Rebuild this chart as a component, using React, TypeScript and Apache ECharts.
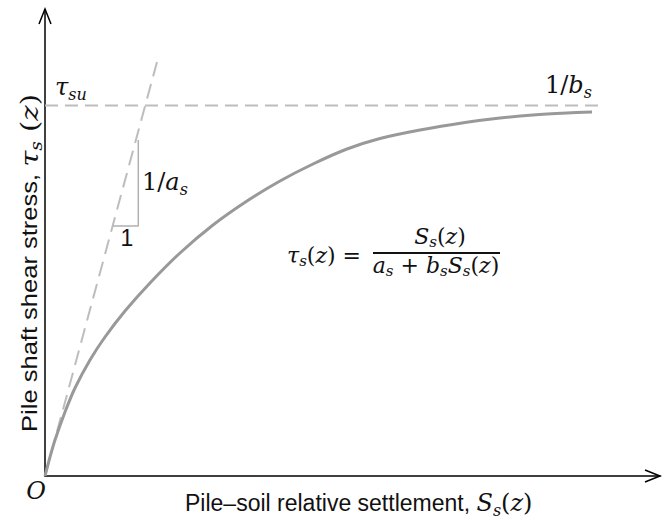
import React, { useEffect, useRef } from 'react';
import * as echarts from 'echarts';

// Curve: pile–soil relative settlement vs shaft shear stress (schematic units)
const settlement = [0, 5, 10, 20, 30, 45, 60, 80, 105, 135, 168, 202, 235, 268, 302, 335, 375, 420, 455, 488, 522, 547];
const shearStress = [0, 19, 36, 64, 88, 116, 139, 165, 193, 223, 251, 275, 295, 312, 327, 337.5, 346, 353.5, 358, 361, 363, 364];

// Initial tangent (slope 1/a_s)
const tangentX = [0, 112];
const tangentY = [0, 414];

// Asymptote (1/b_s = tau_su)
const asymptoteX = [0, 560];
const asymptoteY = [370.5, 370.5];

// Slope triangle
const triangleX = [68, 93.3, 93.3];
const triangleY = [250, 250, 336];

const xMax = 615;
const yMax = 466;

const MATH = 'DejaVu Serif';
const SANS = 'Liberation Sans';

function makeRich(sans: number, math: number, sub: number, shift: number, lh: number) {
  return {
    t: { fontFamily: SANS, fontSize: sans, fill: '#111', lineHeight: lh },
    n: { fontFamily: MATH, fontSize: math, fill: '#111', lineHeight: lh },
    m: { fontFamily: MATH, fontSize: math, fontStyle: 'italic', fill: '#111', lineHeight: lh },
    sub: { fontFamily: MATH, fontSize: sub, fontStyle: 'italic', fill: '#111', lineHeight: lh, padding: [shift * 2, 0, 0, 0] },
  };
}

const richFormula = makeRich(22, 22, 15, 6, 22);
const richLabel = makeRich(23, 24, 16, 7.5, 24);
const richY = makeRich(22, 25, 16, 7.5, 24);
const richNote = makeRich(23, 24, 16, 7.5, 24);

function pairs(xs: number[], ys: number[]) {
  return xs.map((x, i) => [x, ys[i]]);
}

export default function App() {
  const ref = useRef<HTMLDivElement>(null);
  useEffect(() => {
    const chart = echarts.init(ref.current!, null, { renderer: 'svg' });
    chart.setOption({
      animation: false,
      backgroundColor: '#fff',
      grid: { left: 45, right: 5, top: 10, bottom: 44 },
      xAxis: {
        type: 'value', min: 0, max: xMax,
        axisLine: { show: true, onZero: false, lineStyle: { color: '#000', width: 1.5 } },
        axisTick: { show: false }, axisLabel: { show: false }, splitLine: { show: false },
      },
      yAxis: {
        type: 'value', min: 0, max: yMax,
        axisLine: { show: true, onZero: false, lineStyle: { color: '#000', width: 1.5 } },
        axisTick: { show: false }, axisLabel: { show: false }, splitLine: { show: false },
      },
      series: [
        {
          type: 'line', data: pairs(asymptoteX, asymptoteY), showSymbol: false, z: 2,
          lineStyle: { color: '#bdbdbd', width: 2, type: [13, 7] },
        },
        {
          type: 'line', data: pairs(tangentX, tangentY), showSymbol: false, z: 2,
          lineStyle: { color: '#bdbdbd', width: 2, type: [15, 8] },
        },
        {
          type: 'line', data: pairs(triangleX, triangleY), showSymbol: false, z: 2,
          lineStyle: { color: '#b0b0b0', width: 1.5 },
        },
        {
          type: 'line', data: pairs(settlement, shearStress), showSymbol: false, smooth: 0.3, z: 3,
          lineStyle: { color: '#999999', width: 3 },
        },
      ],
      graphic: [
        { type: 'polyline', shape: { points: [[39, 24], [45, 9], [51, 24]] }, style: { stroke: '#000', lineWidth: 1.5, fill: null } },
        { type: 'polyline', shape: { points: [[645, 470], [660, 476], [645, 482]] }, style: { stroke: '#000', lineWidth: 1.5, fill: null } },
        {
          type: 'text', x: 185, y: 503,
          style: { text: '{t|Pile–soil relative settlement, }{m|S}{sub|s}{n|(}{m|z}{n|)}', rich: richLabel, align: 'left', verticalAlign: 'middle' },
        },
        {
          type: 'text', x: 29, y: 263, rotation: Math.PI / 2, scaleX: 1.16,
          style: { text: '{t|Pile shaft shear stress, }{m|τ}{sub|s}{n| (}{m|z}{n|)}', rich: richY, align: 'center', verticalAlign: 'middle' },
        },
        {
          type: 'text', x: 36, y: 491,
          style: { text: '{m|O}', rich: richLabel, align: 'center', verticalAlign: 'middle' },
        },
        {
          type: 'text', x: 55, y: 87,
          style: { text: '{m|τ}{sub|su}', rich: richNote, align: 'left', verticalAlign: 'middle' },
        },
        {
          type: 'text', x: 142, y: 182,
          style: { text: '{n|1/}{m|a}{sub|s}', rich: richNote, align: 'left', verticalAlign: 'middle' },
        },
        {
          type: 'text', x: 127, y: 238,
          style: { text: '{t|1}', rich: richNote, align: 'center', verticalAlign: 'middle' },
        },
        {
          type: 'text', x: 545, y: 85,
          style: { text: '{n|1/}{m|b}{sub|s}', rich: richNote, align: 'left', verticalAlign: 'middle' },
        },
        {
          type: 'text', x: 361, y: 255,
          style: { text: '{m|τ}{sub|s}{n|(}{m|z}{n|) =}', rich: richFormula, align: 'right', verticalAlign: 'middle' },
        },
        {
          type: 'text', x: 440, y: 236,
          style: { text: '{m|S}{sub|s}{n|(}{m|z}{n|)}', rich: richFormula, align: 'center', verticalAlign: 'middle' },
        },
        {
          type: 'text', x: 436, y: 265,
          style: { text: '{m|a}{sub|s}{n| + }{m|b}{sub|s}{m|S}{sub|s}{n|(}{m|z}{n|)}', rich: richFormula, align: 'center', verticalAlign: 'middle' },
        },
        { type: 'line', shape: { x1: 373, y1: 253, x2: 500, y2: 253 }, style: { stroke: '#111', lineWidth: 1.8 } },
      ],
    });
    return () => chart.dispose();
  }, []);
  return <div ref={ref} style={{ position: 'fixed', left: 0, top: 0, width: 665, height: 520 }} />;
}
